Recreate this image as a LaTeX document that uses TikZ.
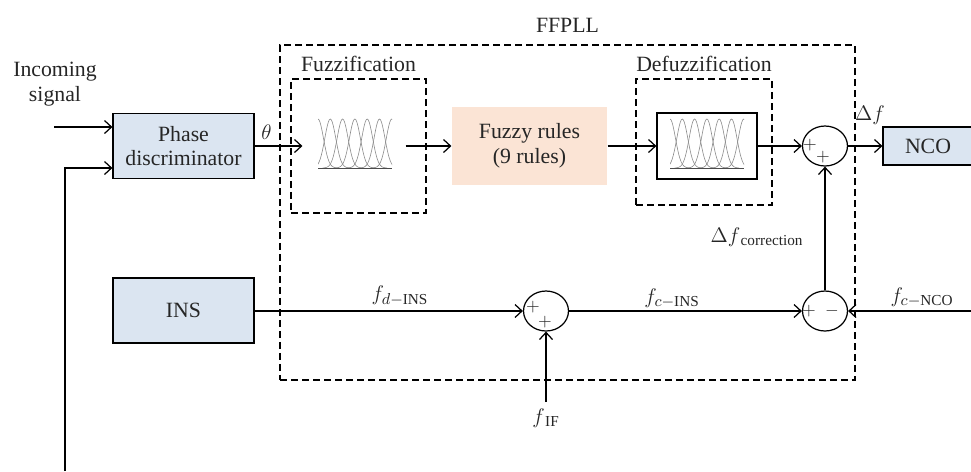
\documentclass[tikz,border=0pt]{standalone}
\usepackage{fontspec}
\setmainfont{Liberation Serif}
\usetikzlibrary{shapes.geometric,arrows.meta}
\definecolor{discblue}{RGB}{219,229,241}
\definecolor{rulepeach}{RGB}{251,228,213}
% row of seven membership functions, #1 = left end, #2 = base line
\newcommand{\bellrow}[2]{%
  \begin{scope}
    \clip (#1,#2+1) rectangle (#1+74,#2-52);
    \foreach \k in {0,...,6}
      \draw[bell] plot[domain=-20:20,samples=41]
        ({#1+\k*12.3+\x},{#2-49*exp(0-((\x)*(\x))/60)});
  \end{scope}
  \draw[bellbase] (#1,#2) -- ++(74,0);}

\begin{document}
\begin{tikzpicture}[x=0.02cm,y=-0.02cm,line width=0.7pt,
  >={Straight Barb[length=1.4mm,width=2.6mm]},
  every node/.style={font=\fontsize{12.4}{14}\selectfont,text=black!85},
  block/.style={draw,fill=discblue,minimum width=2.82cm,minimum height=1.3cm,inner sep=0pt,align=center},
  dashbox/.style={draw,dash pattern=on 1.4mm off 0.8mm,inner sep=0pt},
  sumnode/.style={draw,ellipse,minimum width=0.9cm,minimum height=0.8cm,inner sep=0pt},
  sign/.style={font=\fontsize{10}{10}\selectfont,inner sep=0pt},
  bell/.style={black!45,line width=0.35pt},
  bellbase/.style={black!70,line width=0.4pt}]
\useasboundingbox (0,0) rectangle (971,471);
% FFPLL frame
\node[dashbox,minimum width=11.5cm,minimum height=6.7cm] (ffpll) at (567.5,212.5) {};
\node[above=3pt] at (ffpll.north) {FFPLL};
% fuzzification
\node[dashbox,minimum width=2.7cm,minimum height=2.68cm] (fzbox) at (358.5,146) {};
\node[above] at (fzbox.north) {Fuzzification};
\node[minimum width=2.04cm,minimum height=1cm] (fzc) at (354,146) {};
\bellrow{318}{168}
% rule base
\node[fill=rulepeach,minimum width=3.1cm,minimum height=1.58cm,align=center] (rules) at (529.5,146) {Fuzzy rules\\(9 rules)};
% defuzzification
\node[dashbox,minimum width=2.72cm,minimum height=2.52cm] (dfbox) at (704,142) {};
\node[above] at (dfbox.north) {Defuzzification};
\node[draw,minimum width=2cm,minimum height=1.32cm] (defin) at (707,146) {};
\bellrow{670}{168}
% summing points
\node[sumnode] (sum1) at (825,146) {};
\node[sign] at (810,145) {$+$};
\node[sign] at (823,157) {$+$};
\node[sumnode] (sum2) at (825,311) {};
\node[sign] at (809,311) {$+$};
\node[sign] at (832,311) {$-$};
\node[sumnode] (sum3) at (546,311) {};
\node[sign] at (533,307) {$+$};
\node[sign] at (545,322) {$+$};
% blocks
\node[block] (pd) at (183.5,146) {Phase\\discriminator};
\node[block] (ins) at (183.5,310.5) {INS};
\node[block,minimum width=1.8cm,minimum height=0.76cm] (nco) at (928,146) {NCO};
% free ends
\coordinate (fb) at (65,471);
\coordinate (inc) at (54,127);
\coordinate (fif) at (546,402);
\coordinate (ncoin) at (971,311);
\node[align=center] at (55,84) {Incoming\\signal};
% connectors
\draw[->] (inc) -- (inc -| pd.west);
\draw[->] (fb) |- ([yshift=-0.44cm]pd.west);
\draw[->] (pd.east) -- (fzc.west) node[pos=0.25,above] {$\theta$};
\draw[->] (fzc.east) -- (rules.west);
\draw[->] (rules.east) -- (defin.west);
\draw[->] (defin.east) -- (sum1.west);
\draw[->] (sum1.east) -- (nco.west);
\node at (870,115) {$\Delta f$};
\draw[->] (sum2.north) -- (sum1.south);
\node at (757,237) {$\Delta f_{\,\mathrm{correction}}$};
\draw[->] (ins.east |- sum3) -- (sum3.west);
\node at (400,296) {$f_{d-\mathrm{INS}}$};
\draw[->] (fif) -- (sum3.south);
\node[below] at (fif) {$f_{\,\mathrm{IF}}$};
\draw[->] (sum3.east) -- (sum2.west);
\node at (672,298) {$f_{c-\mathrm{INS}}$};
\draw[->] (ncoin) -- (sum2.east);
\node at (922,297) {$f_{c-\mathrm{NCO}}$};
\end{tikzpicture}
\end{document}
